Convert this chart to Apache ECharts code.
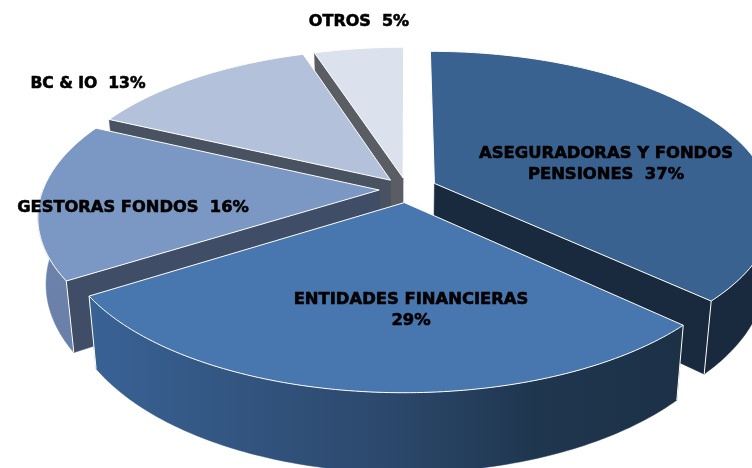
<!DOCTYPE html>
<html><head><meta charset="utf-8">
<style>html,body{margin:0;padding:0;background:#fff}#c{width:752px;height:468px}</style>
<script src="https://cdn.jsdelivr.net/npm/echarts@6/dist/echarts.min.js"></script>
</head><body><div id="c"></div>
<script>
const categories = ['ASEGURADORAS Y FONDOS PENSIONES','ENTIDADES FINANCIERAS','GESTORAS FONDOS','BC & IO','OTROS'];
const values = [37,29,16,13,5];
const labelTexts = ['ASEGURADORAS Y FONDOS\nPENSIONES  37%','ENTIDADES FINANCIERAS\n29%','GESTORAS FONDOS  16%','BC & IO  13%','OTROS  5%'];

// styling / view settings
const explode = [0.096,0.085,0.074,0.07,0.075];
const nudgeX = [2,4,1,3,4];
const nudgeY = [0,0,0,-1,0];
const labelAt = [[606,164],[411,310],[133,208],[88,84],[359,22]];
const labelSize = [16.4,16.4,16.3,15.6,16];
const topCol = ['#3a6291','#4876af','#7b97c3','#b3c2da','#dbe1ed'];
const cutCol = ['#1a2a3e','#1a2a3e','#3f4d66','#495260','#5a5d64'];
const wallCol = [
  '#1a2a3e',
  {type:'linear',x:0,y:0,x2:1,y2:0,colorStops:[{offset:0,color:'#396295'},{offset:0.5,color:'#2c486c'},{offset:0.75,color:'#1f364f'},{offset:1,color:'#1c3146'}]},
  {type:'linear',x:0,y:0,x2:0,y2:1,colorStops:[{offset:0,color:'#6d84ac'},{offset:1,color:'#6a80a8'}]},
  '#8fa0bd','#aeb6c6'];
const drawOrder = [4,3,0,2,1];
const view = {cx:403,cy:189.3,kx:336,ky:155,p:0.16,vpX:400,f:0.0226,depth:73,depthSlope:0.075,depthRef:300};

const total = values.reduce((a,b)=>a+b,0);
function project(u,v){const s=1/(1-view.p*v);return [view.cx+view.kx*u*s, view.cy+view.ky*v*s];}
function drop(pt){return [pt[0]+(view.vpX-pt[0])*view.f, pt[1]+view.depth+(pt[1]-view.depthRef)*view.depthSlope];}

function sliceGeom(i){
  let before=0; for(let k=0;k<i;k++) before+=values[k];
  const a0=before/total*2*Math.PI, a1=(before+values[i])/total*2*Math.PI, mid=(a0+a1)/2;
  const ox=Math.sin(mid)*explode[i], oy=-Math.cos(mid)*explode[i];
  const shift=p=>[p[0]+nudgeX[i],p[1]+nudgeY[i]];
  const apex=shift(project(ox,oy));
  const arc=[], front=[]; const n=Math.max(12,Math.round((a1-a0)*60));
  for(let j=0;j<=n;j++){
    const a=a0+(a1-a0)*j/n, p=shift(project(ox+Math.sin(a),oy-Math.cos(a)));
    arc.push(p);
    if(-Math.cos(a)>=-0.02) front.push(p);
  }
  return {apex,arc,front,a0,a1};
}
const edge={stroke:'#fff',lineWidth:1};
function renderItem(params,api){
  const i=drawOrder[api.value(0)];
  const g=sliceGeom(i), arc=g.arc, apex=g.apex, front=g.front, first=arc[0], last=arc[arc.length-1];
  const ch=[];
  const poly=(points,fill,stroke)=>ch.push({type:'polygon',shape:{points},style:Object.assign({fill,lineJoin:'round'},stroke?edge:{stroke:fill,lineWidth:0.5})});
  const line=(a,b)=>ch.push({type:'line',shape:{x1:a[0],y1:a[1],x2:b[0],y2:b[1]},style:{stroke:'#fff',lineWidth:1}});
  if(front.length>1) poly(front.concat(front.map(drop).reverse()),wallCol[i]);
  if(-Math.sin(g.a0)>0.001) poly([apex,first,drop(first),drop(apex)],cutCol[i]);
  if(Math.sin(g.a1)>0.001) poly([apex,last,drop(last),drop(apex)],cutCol[i]);
  if(front.length>1){ line(front[0],drop(front[0])); line(front[front.length-1],drop(front[front.length-1])); }
  poly([apex].concat(arc),topCol[i],true);
  return {type:'group',children:ch};
}
function labelItem(params,api){
  const i=api.value(0);
  return {type:'text',style:{text:labelTexts[i],x:labelAt[i][0],y:labelAt[i][1],align:'center',verticalAlign:'middle',
    font:'bold '+labelSize[i]+'px "DejaVu Sans", sans-serif',lineHeight:21,fill:'#000',stroke:'#000',lineWidth:0.6}};
}
const chart=echarts.init(document.getElementById('c'),null,{renderer:'canvas'});
chart.setOption({
  animation:false,backgroundColor:'#fff',
  series:[
   {type:'custom',coordinateSystem:'none',silent:true,renderItem,data:drawOrder.map((_,k)=>[k,values[drawOrder[k]]])},
   {type:'custom',coordinateSystem:'none',silent:true,renderItem:labelItem,z:5,data:categories.map((c,k)=>[k,values[k]])}
  ]
});
</script></body></html>
